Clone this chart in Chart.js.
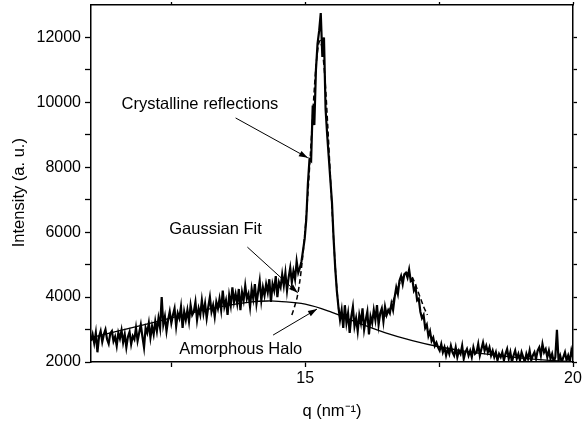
<!DOCTYPE html>
<html>
<head>
<meta charset="utf-8">
<script src="https://cdn.jsdelivr.net/npm/chart.js"></script>
<style>
  body { margin: 0; background: #fff; }
  canvas { display: block; }
</style>
</head>
<body>
<canvas id="xrdChart" width="583" height="431"></canvas>
<script>
// measured pattern, sampled every 0.03 nm^-1 from q = 11
const qStart = 11;
const qStep = 0.03;
const intensity = [
  2650, 2850, 2580, 2900, 2300, 2780, 2950, 2620, 2850, 3000,
  2700, 2560, 2880, 2950, 2640, 2780, 2500, 2900, 2720, 2980,
  2600, 2850, 2450, 2780, 2930, 2550, 2800, 2700, 3050, 2650,
  2900, 3150, 2780, 2450, 3050, 2900, 3200, 2750, 3100, 2850,
  3250, 2950, 3350, 3050, 4000, 3150, 3400, 2950, 3300, 3550,
  3200, 3450, 3650, 3100, 3500, 3350, 3700, 3050, 3550, 3300,
  3600, 3250, 3750, 3450, 3550, 3850, 3300, 3650, 3450, 3900,
  3500, 3800, 3350, 3700, 4000, 3550, 3750, 3400, 3850, 3650,
  3950, 3600, 4200, 3700, 3900, 3450, 4050, 3750, 4300, 3850,
  4100, 3800, 4250, 3600, 4150, 3900, 4350, 3950, 4100, 3700,
  4250, 3950, 4400, 3800, 4150, 4500, 3900, 4300, 4050, 4400,
  4150, 4550, 3850, 4400, 4200, 4650, 4000, 4450, 4300, 4700,
  4350, 4750, 4200, 4600, 4900, 4450, 4800, 4550, 5100, 4750,
  // main reflection
  4900, 5100, 5450, 5800, 6400, 7500, 8250, 8200, 9900, 9300,
  11000, 11800, 12200, 12750, 11400, 12000, 9800, 9000, 8300, 7600,
  6900, 5800, 4900, 4200, 3700, 3300,
  3600, 3050, 3750, 3200, 3500, 2900, 3400, 3700, 3100, 3350,
  2950, 3450, 3200, 3650, 3000, 3300, 3550, 2850, 3400, 3200,
  3600, 3300, 3750, 3150, 3500, 3650, 3250, 3700, 3450, 3600,
  // second reflection
  3500, 3800, 3600, 4000, 4300, 4100, 4500, 4650, 4400, 4700,
  4750, 4600, 4850, 4500, 4550, 4200, 4300, 3900, 3950, 3550,
  3350, 3450, 3050, 3150, 2800, 2950, 2650, 2750, 2500, 2600,
  2450, 2350, 2550, 2300, 2450, 2200, 2400, 2250, 2500, 2300,
  2200, 2450, 2150, 2350, 2250, 2500, 2100, 2300, 2400, 2200,
  2350, 2150, 2450, 2250, 2300, 2550, 2200, 2400, 2600, 2350,
  2500, 2300, 2450, 2200, 2350, 2150, 2300, 2050, 2250, 2150,
  2300, 2050, 2250, 2400, 2100, 2300, 2000, 2200, 2350, 2100,
  2250, 2050, 2300, 2150, 2000, 2250, 2100, 2350, 2050, 2200,
  2300, 2100, 2350, 2450, 2200, 2550, 2300, 2400, 2150, 2350,
  2100, 2250, 2000, 2150, 2990, 2050, 2200, 2000, 2150, 2300,
  2050, 2200, 2000, 2350, 2150
];

// amorphous halo
const haloQ = [11, 11.5, 12, 12.5, 13, 13.5, 14, 14.3, 14.5, 15, 15.5, 16, 16.5, 17, 17.5, 18, 18.5, 19, 19.5, 20];
const haloI = [2750, 2950, 3150, 3360, 3560, 3730, 3850, 3880, 3870, 3780, 3530, 3200, 2900, 2660, 2470, 2330, 2220, 2130, 2060, 2010];

// gaussian fits (dashed)
const fitQ = [14.75, 14.8, 14.85, 14.9, 14.95, 15, 15.05, 15.1, 15.15, 15.2, 15.25, 15.28, 15.32, 15.37, 15.42, 15.47, 15.52, 15.57, 15.62, 15.65];
const fitI = [3450, 3700, 4000, 4500, 5200, 6100, 7200, 8500, 9900, 11100, 11800, 11900, 11600, 10700, 9300, 7700, 6100, 4700, 3700, 3300];
const fit2Q = [16.5, 16.6, 16.7, 16.8, 16.9, 17, 17.1, 17.2, 17.28];
const fit2I = [3400, 3700, 4150, 4550, 4750, 4600, 4200, 3750, 3450];

// axis ticks
const xTicks = [12.5, 15, 17.5, 20];
const xLabels = [15, 20];
const yTicks = [2000, 3000, 4000, 5000, 6000, 7000, 8000, 9000, 10000, 11000, 12000];
const yLabels = [2000, 4000, 6000, 8000, 10000, 12000];

// annotations: text position and arrow start/end in data units
const notes = [
  { text: 'Crystalline reflections', q: 11.57, i: 9950, from: [13.70, 9520], to: [15.05, 8290] },
  { text: 'Gaussian Fit', q: 12.46, i: 6070, from: [13.92, 5540], to: [14.86, 4130] },
  { text: 'Amorphous Halo', q: 12.65, i: 2400, from: [14.40, 2830], to: [15.22, 3630] }
];

const font = 'Liberation Sans, Arial, sans-serif';

function pairs(qs, vals) {
  return qs.map((q, k) => ({ x: q, y: vals[k] }));
}
let measured = intensity.map((v, k) => ({ x: qStart + k * qStep, y: v }));

const notePlugin = {
  id: 'notes',
  afterDatasetsDraw(chart) {
    const c = chart.ctx, sx = chart.scales.x, sy = chart.scales.y;
    c.save();
    c.fillStyle = '#000';
    c.strokeStyle = '#000';
    c.font = '16.5px ' + font;
    c.textBaseline = 'middle';
    notes.forEach(n => {
      c.fillText(n.text, sx.getPixelForValue(n.q), sy.getPixelForValue(n.i));
      const x0 = sx.getPixelForValue(n.from[0]), y0 = sy.getPixelForValue(n.from[1]);
      const x1 = sx.getPixelForValue(n.to[0]), y1 = sy.getPixelForValue(n.to[1]);
      c.lineWidth = 1;
      c.beginPath();
      c.moveTo(x0, y0);
      c.lineTo(x1, y1);
      c.stroke();
      const a = Math.atan2(y1 - y0, x1 - x0);
      c.beginPath();
      c.moveTo(x1, y1);
      c.lineTo(x1 - 9 * Math.cos(a) + 3 * Math.sin(a), y1 - 9 * Math.sin(a) - 3 * Math.cos(a));
      c.lineTo(x1 - 9 * Math.cos(a) - 3 * Math.sin(a), y1 - 9 * Math.sin(a) + 3 * Math.cos(a));
      c.closePath();
      c.fill();
    });
    c.restore();
  }
};

function noPad(s) {
  s.paddingTop = 0; s.paddingBottom = 0; s.paddingLeft = 0; s.paddingRight = 0;
}

function frameAxis(extra) {
  return Object.assign({
    type: 'linear',
    grid: { drawOnChartArea: false, color: '#000', tickLength: 4, tickWidth: 1.3 },
    border: { color: '#000', width: 1.5 },
    ticks: { display: false }
  }, extra);
}

let ctx = document.getElementById('xrdChart').getContext('2d');
let myChart = new Chart(ctx, {
  type: 'line',
  data: {
    datasets: [
      { data: measured, borderColor: '#000', borderWidth: 2.2, pointRadius: 0, tension: 0 },
      { data: pairs(haloQ, haloI), borderColor: '#000', borderWidth: 1.3, pointRadius: 0, tension: 0.4 },
      { data: pairs(fitQ, fitI), borderColor: '#000', borderWidth: 1.5, borderDash: [5, 3], pointRadius: 0, tension: 0.3 },
      { data: pairs(fit2Q, fit2I), borderColor: '#000', borderWidth: 1.5, borderDash: [5, 3], pointRadius: 0, tension: 0.3 }
    ]
  },
  options: {
    responsive: false,
    animation: false,
    events: [],
    layout: { padding: 0 },
    plugins: { legend: { display: false }, tooltip: { enabled: false } },
    scales: {
      x: {
        type: 'linear', position: 'bottom', min: 11, max: 20,
        afterBuildTicks: s => { s.ticks = xTicks.map(v => ({ value: v })); },
        afterFit: s => { s.height = 69; noPad(s); },
        grid: { drawOnChartArea: false, color: '#000', tickLength: 5, tickWidth: 1.3 },
        border: { color: '#000', width: 1.5 },
        ticks: {
          color: '#000', font: { family: font, size: 16 }, padding: 2, maxRotation: 0,
          callback: v => xLabels.includes(v) ? String(v) : ''
        },
        title: {
          display: true, text: 'q (nm\u207B\u00B9)', color: '#000',
          font: { family: font, size: 16.5 }, padding: { top: 0, bottom: 10 }
        }
      },
      xTop: frameAxis({
        position: 'top', min: 11, max: 20,
        afterBuildTicks: s => { s.ticks = xTicks.map(v => ({ value: v })); },
        afterFit: s => { s.height = 5; noPad(s); },
        grid: { drawOnChartArea: false, color: '#000', tickLength: 3, tickWidth: 1.3 }
      }),
      y: {
        type: 'linear', position: 'left', min: 2000, max: 13000,
        afterBuildTicks: s => { s.ticks = yTicks.map(v => ({ value: v })); },
        afterFit: s => { s.width = 91; noPad(s); },
        grid: { drawOnChartArea: false, color: '#000', tickLength: 6, tickWidth: 1.3 },
        border: { color: '#000', width: 1.5 },
        ticks: {
          color: '#000', font: { family: font, size: 16 }, padding: 4,
          callback: v => yLabels.includes(v) ? String(v) : ''
        },
        title: {
          display: true, text: 'Intensity (a. u.)    ', color: '#000',
          font: { family: font, size: 16.5 }, padding: { top: 10, bottom: 0 }
        }
      },
      yRight: frameAxis({
        position: 'right', min: 2000, max: 13000,
        afterBuildTicks: s => { s.ticks = yTicks.map(v => ({ value: v })); },
        afterFit: s => { s.width = 10; noPad(s); }
      })
    }
  },
  plugins: [notePlugin]
});
</script>
</body>
</html>
